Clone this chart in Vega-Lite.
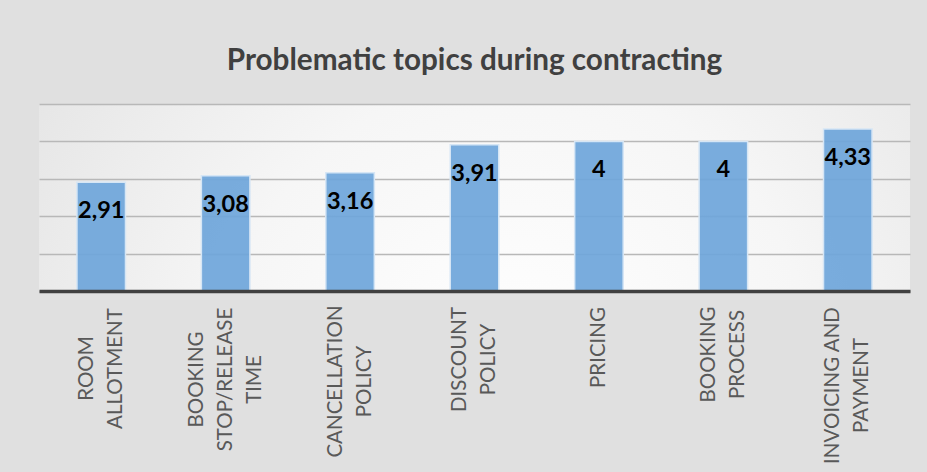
{
  "$schema": "https://vega.github.io/schema/vega-lite/v6.json",
  "width": 871,
  "height": 187,
  "autosize": {"type": "none"},
  "padding": {"left": 39, "top": 104, "right": 17, "bottom": 181},
  "background": "#e0e0e0",
  "title": {
    "text": "Problematic topics during contracting",
    "anchor": "middle",
    "frame": "group",
    "baseline": "alphabetic",
    "offset": 4,
    "font": "Lato",
    "fontSize": 29.7,
    "fontWeight": "bold",
    "color": "#404040"
  },
  "data": {
    "values": [
      {"topic": "ROOM ALLOTMENT", "score": 2.91},
      {"topic": "BOOKING STOP/RELEASE TIME", "score": 3.08},
      {"topic": "CANCELLATION POLICY", "score": 3.16},
      {"topic": "DISCOUNT POLICY", "score": 3.91},
      {"topic": "PRICING", "score": 4},
      {"topic": "BOOKING PROCESS", "score": 4},
      {"topic": "INVOICING AND PAYMENT", "score": 4.33}
    ]
  },
  "transform": [
    {"calculate": "replace(format(datum.score, '~g'), '.', ',')", "as": "scoreText"}
  ],
  "encoding": {
    "x": {
      "field": "topic",
      "type": "nominal",
      "sort": null,
      "title": null,
      "scale": {"paddingInner": 0.61, "paddingOuter": 0.305},
      "axis": {
        "zindex": 2,
        "domainColor": "#404040",
        "domainWidth": 3.5,
        "ticks": false,
        "tickSize": 0,
        "labelAngle": -90,
        "labelAlign": "center",
        "labelBaseline": "middle",
        "labelFont": "Lato",
        "labelFontSize": 20.5,
        "labelColor": "#595959",
        "labelLineHeight": 29,
        "labelExpr": "datum.label == 'INVOICING AND PAYMENT' ? ['INVOICING AND', 'PAYMENT'] : split(datum.label, ' ')",
        "labelOffset": {
          "condition": [
            {"test": "datum.value == 'PRICING'", "value": 0},
            {"test": "datum.value == 'BOOKING STOP/RELEASE TIME'", "value": -29}
          ],
          "value": -14.5
        },
        "labelPadding": {
          "condition": [
            {"test": "datum.value == 'ROOM ALLOTMENT'", "value": 77},
            {"test": "datum.value == 'BOOKING STOP/RELEASE TIME'", "value": 88},
            {"test": "datum.value == 'CANCELLATION POLICY'", "value": 90},
            {"test": "datum.value == 'DISCOUNT POLICY'", "value": 68},
            {"test": "datum.value == 'PRICING'", "value": 56},
            {"test": "datum.value == 'BOOKING PROCESS'", "value": 63}
          ],
          "value": 94
        }
      }
    },
    "y": {
      "field": "score",
      "type": "quantitative",
      "title": null,
      "scale": {"domain": [0, 5], "nice": false},
      "axis": {
        "zindex": 0,
        "values": [0, 1, 2, 3, 4, 5],
        "domain": false,
        "ticks": false,
        "labels": false,
        "grid": true,
        "gridColor": "#b8b8b8",
        "gridWidth": 1.3
      }
    }
  },
  "layer": [
    {
      "mark": {
        "type": "bar",
        "fill": "#6ea5da",
        "fillOpacity": 0.92,
        "stroke": "#d6e6f5",
        "strokeWidth": 1.5
      }
    },
    {
      "mark": {
        "type": "text",
        "baseline": "middle",
        "align": "center",
        "dy": 29,
        "font": "Lato",
        "fontSize": 23.5,
        "fontWeight": "bold",
        "color": "#000000"
      },
      "encoding": {"text": {"field": "scoreText"}}
    }
  ],
  "config": {
    "view": {
      "stroke": null,
      "fill": {
        "gradient": "radial",
        "x1": 0.55, "y1": 0.7, "r1": 0,
        "x2": 0.55, "y2": 0.7, "r2": 0.75,
        "stops": [
          {"offset": 0, "color": "#ffffff"},
          {"offset": 0.45, "color": "#f6f6f6"},
          {"offset": 1, "color": "#e0e0e0"}
        ]
      }
    }
  }
}
